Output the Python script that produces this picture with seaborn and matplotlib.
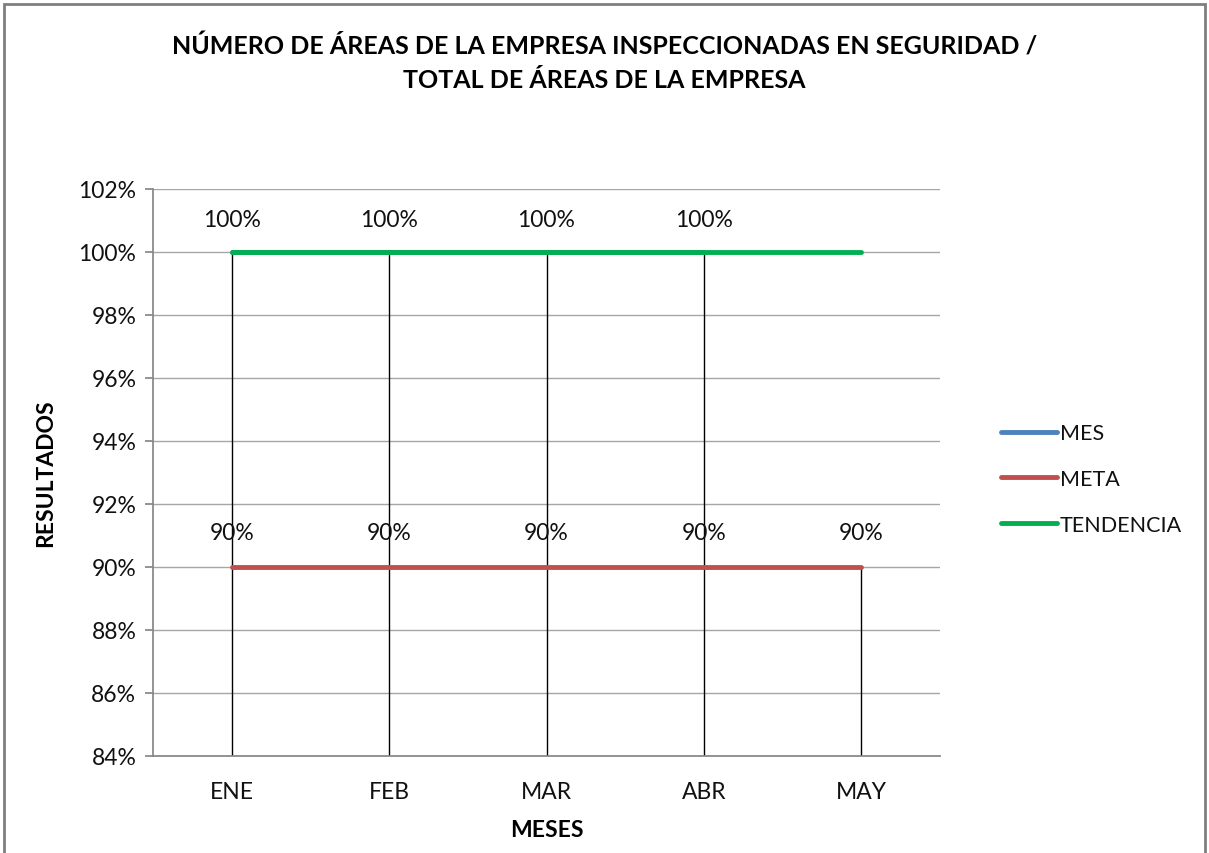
import numpy as np
import pandas as pd
import matplotlib
matplotlib.use('Agg')
import matplotlib.pyplot as plt
import seaborn as sns
from matplotlib.ticker import PercentFormatter

#Data
meses = ['ENE', 'FEB', 'MAR', 'ABR', 'MAY']
mes = [1.00, 1.00, 1.00, 1.00, np.nan]
meta = [0.90, 0.90, 0.90, 0.90, 0.90]
tendencia = [1.00, 1.00, 1.00, 1.00, 1.00]
y_ticks = [0.84, 0.86, 0.88, 0.90, 0.92, 0.94, 0.96, 0.98, 1.00, 1.02]

sns.set_theme(style='white')
plt.rcParams['font.family'] = ['Lato', 'DejaVu Sans']

df = pd.DataFrame({'MESES': meses, 'MES': mes, 'META': meta, 'TENDENCIA': tendencia})
df['x'] = range(len(meses))

fig = plt.figure(figsize=(12.09, 8.54), dpi=100)
ax = fig.add_axes([153/1209, 1-757/854, (940-153)/1209, (757-190)/854])

txt = '#111111'
fs = 16.5

# drop lines from the highest point of each category
top = df[['MES', 'META']].max(axis=1)
ax.vlines(df['x'], y_ticks[0], top, color='black', lw=1, zorder=2)

sns.lineplot(data=df, x='x', y='MES', color='#4F81BD', lw=3.5, ax=ax, label='MES', zorder=3)
sns.lineplot(data=df, x='x', y='META', color='#C0504D', lw=3.5, ax=ax, label='META', zorder=3)
sns.lineplot(data=df, x='x', y='TENDENCIA', color='#00B050', lw=3.5, ax=ax, label='TENDENCIA', zorder=4)

# data labels
for xi, v in zip(df['x'], df['MES']):
    if not np.isnan(v):
        ax.text(xi, v + 0.0102, f'{v:.0%}', ha='center', va='center', fontsize=fs, color=txt)
for xi, v in zip(df['x'], df['META']):
    ax.text(xi, v + 0.0108, f'{v:.0%}', ha='center', va='center', fontsize=fs, color=txt)

ax.set_xlim(-0.5, len(meses) - 0.5)
ax.set_ylim(y_ticks[0], y_ticks[-1])
ax.set_yticks(y_ticks)
ax.yaxis.set_major_formatter(PercentFormatter(1.0, decimals=0))
ax.set_xticks(df['x'])
ax.set_xticklabels(meses)
ax.tick_params(axis='both', labelsize=fs, labelcolor=txt)
ax.tick_params(axis='y', which='major', length=6, color='#868686', left=True, direction='out', pad=6)
ax.tick_params(axis='x', length=0, pad=18)
ax.grid(axis='y', color='#a6a6a6', lw=1)
for s in ['top', 'right']:
    ax.spines[s].set_visible(False)
for s in ['left', 'bottom']:
    ax.spines[s].set_color('#868686')

ax.set_xlabel('MESES', fontsize=fs, fontweight='bold', labelpad=12, color='black')
ax.set_ylabel('RESULTADOS', fontsize=fs, fontweight='bold', labelpad=16, color='black')

fig.suptitle('NÚMERO DE ÁREAS DE LA EMPRESA INSPECCIONADAS EN SEGURIDAD /\nTOTAL DE ÁREAS DE LA EMPRESA',
             fontsize=18, fontweight='bold', y=1-63/854, va='center', linespacing=1.55, color='black')

ax.get_legend().remove()
handles, labels = ax.get_legend_handles_labels()
fig.legend(handles, labels, loc='center left', bbox_to_anchor=(982/1209, 1-480/854), frameon=False,
           fontsize=15.5, handlelength=2.6, handletextpad=0.1, labelspacing=1.2, labelcolor=txt)

# chart border
fig.add_artist(plt.Rectangle((4/1209, -0.01), 1-8/1209, 1.01-5/854, transform=fig.transFigure,
                             fill=False, edgecolor='#7f7f7f', lw=2))

plt.savefig('out.png', dpi=100)
